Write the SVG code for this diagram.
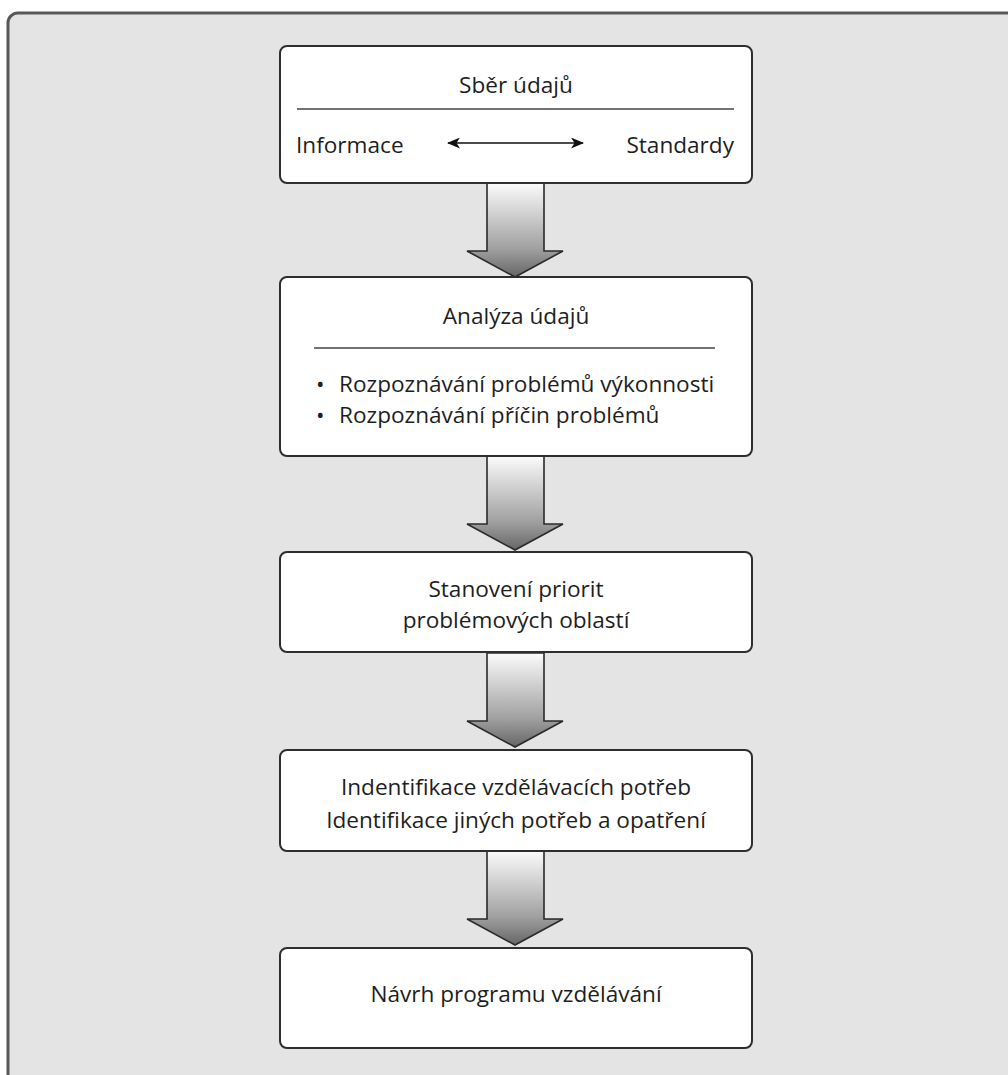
<svg xmlns="http://www.w3.org/2000/svg" width="1008" height="1075" viewBox="0 0 1008 1075">
<defs>
<style>
.box{fill:#ffffff;stroke:#2e2e2e;stroke-width:2}
.t{font-family:"Open Sans","Noto Sans","DejaVu Sans",sans-serif;font-size:22.6px;fill:#1e1e1e}
.c{text-anchor:middle}
.rule{stroke:#444;stroke-width:1.6}
.big{fill:url(#g);stroke:#2a2a2a;stroke-width:1.6;stroke-linejoin:miter}
</style>
<linearGradient id="g" x1="0" y1="0" x2="0" y2="1">
<stop offset="0" stop-color="#fbfbfb"/>
<stop offset="0.7" stop-color="#a0a0a0"/>
<stop offset="1" stop-color="#666666"/>
</linearGradient>
<marker id="ah" viewBox="0 0 13 11" refX="12" refY="5.5" markerWidth="13" markerHeight="11" markerUnits="userSpaceOnUse" orient="auto-start-reverse">
<path d="M0,0 L13,5.5 L0,11 L3.5,5.5 Z" fill="#111"/>
</marker>
<path id="bigArrow" d="M487,0 V68 H467 L515,94 L563,68 H544 V0 Z"/>
</defs>
<rect x="0" y="0" width="1008" height="1075" fill="#ffffff"/>
<rect x="8" y="13" width="1030" height="1100" rx="10" fill="#e4e4e4" stroke="#585858" stroke-width="3"/>
<g id="connectors">
<use href="#bigArrow" class="big" transform="translate(0,183)"/>
<use href="#bigArrow" class="big" transform="translate(0,456)"/>
<use href="#bigArrow" class="big" transform="translate(0,653)"/>
<use href="#bigArrow" class="big" transform="translate(0,851)"/>
</g>
<g id="node-sber">
<rect class="box" x="280" y="46" width="472" height="137" rx="7"/>
<text class="t c" x="516" y="93">Sběr údajů</text>
<line class="rule" x1="297" y1="109" x2="734" y2="109"/>
<text class="t" x="296" y="153">Informace</text>
<text class="t" x="734" y="153" text-anchor="end">Standardy</text>
<line x1="448" y1="143" x2="583" y2="143" stroke="#111" stroke-width="1.7" marker-start="url(#ah)" marker-end="url(#ah)"/>
</g>
<g id="node-analyza">
<rect class="box" x="280" y="277" width="472" height="179" rx="7"/>
<text class="t c" x="516" y="324">Analýza údajů</text>
<line class="rule" x1="314" y1="348" x2="715" y2="348"/>
<text class="t" x="316" y="392">•</text>
<text class="t" x="339" y="392">Rozpoznávání problémů výkonnosti</text>
<text class="t" x="316" y="423">•</text>
<text class="t" x="339" y="423">Rozpoznávání příčin problémů</text>
</g>
<g id="node-priority">
<rect class="box" x="280" y="552" width="472" height="100" rx="7"/>
<text class="t c" x="516" y="597">Stanovení priorit</text>
<text class="t c" x="516" y="628">problémových oblastí</text>
</g>
<g id="node-identifikace">
<rect class="box" x="280" y="750" width="472" height="101" rx="7"/>
<text class="t c" x="516" y="795">Indentifikace vzdělávacích potřeb</text>
<text class="t c" x="516" y="828">Identifikace jiných potřeb a opatření</text>
</g>
<g id="node-navrh">
<rect class="box" x="280" y="948" width="472" height="100" rx="7"/>
<text class="t c" x="516" y="1002">Návrh programu vzdělávání</text>
</g>
</svg>
